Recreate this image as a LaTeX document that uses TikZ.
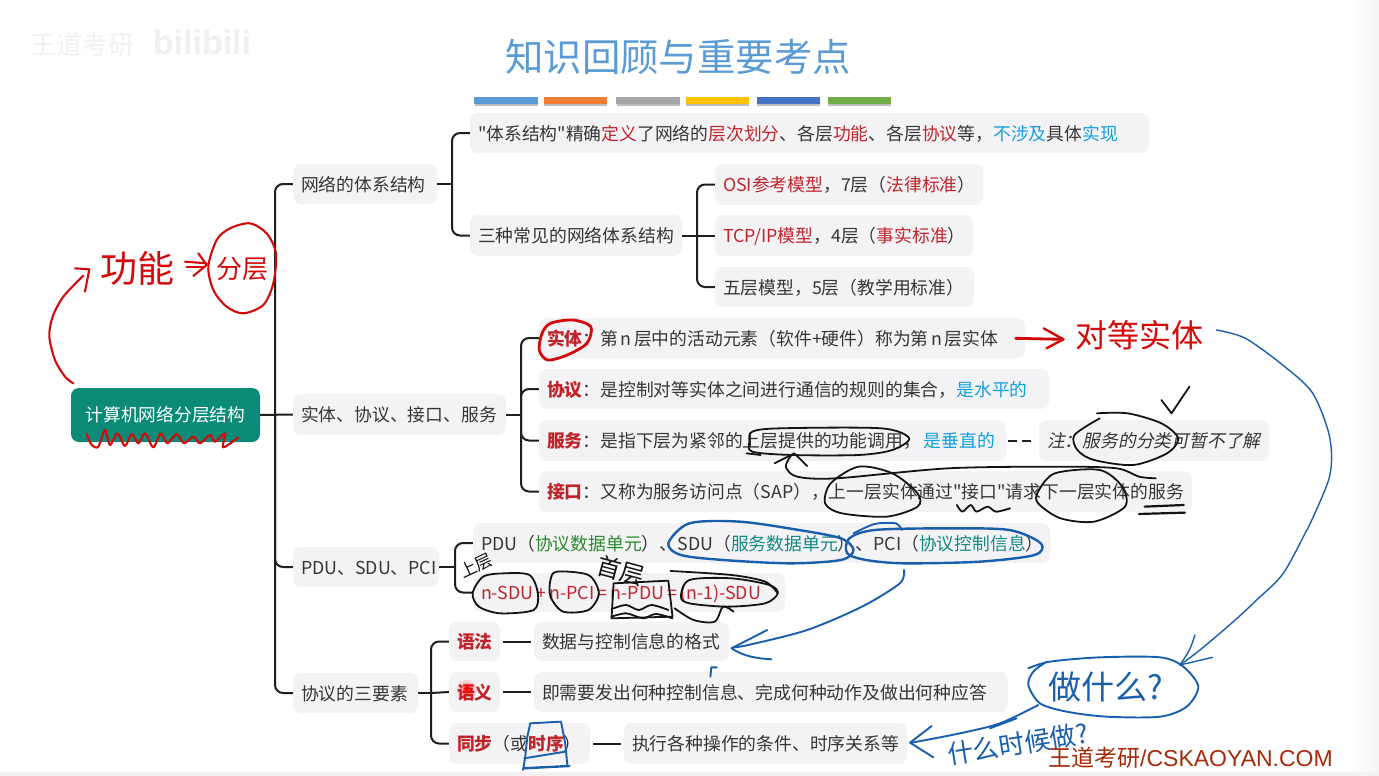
\documentclass[tikz,border=0pt]{standalone}
\usepackage{fontspec}
\setmainfont{Noto Sans CJK SC}
\newfontfamily\slantf[FakeSlant=0.2]{Noto Sans CJK SC}
\newfontfamily\arialf{Liberation Sans}
\newfontfamily\cjkl{Noto Sans CJK SC}
\definecolor{tred}{HTML}{C0242B}
\definecolor{tblue}{HTML}{12A0DC}
\definecolor{tgreen}{HTML}{2A8C2E}
\definecolor{tteal}{HTML}{128A80}
\definecolor{txt}{HTML}{363636}
\definecolor{boxf}{HTML}{F3F2F5}
\definecolor{inkr}{HTML}{D40A0A}
\definecolor{inkb}{HTML}{1A5FAE}
\definecolor{inkk}{HTML}{141414}
\definecolor{titlec}{HTML}{5B9BD5}
\definecolor{rootc}{HTML}{0B8A78}
\definecolor{brandc}{HTML}{A52A0A}
\newcommand{\rd}[1]{\textcolor{tred}{#1}}
\newcommand{\rb}[1]{\textcolor{tred}{\bfseries #1}}
\newcommand{\bl}[1]{\textcolor{tblue}{#1}}
\newcommand{\gr}[1]{\textcolor{tgreen}{#1}}
\newcommand{\te}[1]{\textcolor{tteal}{#1}}
\newcommand{\sq}{{\cjkl\symbol{34}}}
\newcommand{\bx}[6]{%
  \pgfmathsetmacro{\myw}{#4-#2}\pgfmathsetmacro{\myh}{#5-#3}%
  \pgfmathsetmacro{\mycx}{(#2+#4)/2}\pgfmathsetmacro{\mycy}{(#3+#5)/2}%
  \pgfmathsetmacro{\mytw}{\myw-16}%
  \node[tb,minimum width=\myw pt,minimum height=\myh pt,text width=\mytw pt] (#1) at (\mycx,\mycy) {#6};}
\tikzset{
  tb/.style={fill=boxf,rounded corners=8pt,inner xsep=8pt,inner ysep=0pt,align=left,text=txt,
    font=\fontsize{17.8}{20}\selectfont,text height=16pt,text depth=1.5pt},
  conn/.style={draw=black!88,line width=2pt,rounded corners=8pt},
  hr/.style={draw=inkr,line width=2.1pt,line cap=round,line join=round},
  hb/.style={draw=inkb,line width=1.9pt,line cap=round,line join=round},
  hk/.style={draw=inkk,line width=1.8pt,line cap=round,line join=round},
  z2/.style={shift={(500,310)},xscale=.5605,yscale=.3333},
  z3/.style={shift={(420,510)},xscale=.4209,yscale=.3333},
  z4/.style={shift={(900,600)},xscale=.3333,yscale=.3333},
  z5/.style={shift={(30,210)},xscale=.3333,yscale=.3333},
  bar/.style={minimum width=63.5pt,minimum height=7pt,inner sep=0pt},
  hand/.style={inner sep=0pt,font=\cjkl\fontsize{#1}{#1}\selectfont},
}
\begin{document}
\begin{tikzpicture}[x=1pt,y=-1pt]
\useasboundingbox (0,0) rectangle (1379,776);
\fill[white] (0,0) rectangle (1379,776);
\shade[left color=white,right color=black!4] (1350,0) rectangle (1379,776);
\fill[black!5] (0,772) rectangle (1379,776);
% watermark
\node[inner sep=0pt,text=black!5,font=\fontsize{26}{26}\selectfont] (wm1) at (82,45) {王道考研};
\node[inner sep=0pt,text=black!6,font=\arialf\bfseries\fontsize{34}{34}\selectfont] (wm2) at (202,42) {bilibili};
% title
\node[inner sep=0pt,font=\fontsize{38.4}{40}\selectfont,text=titlec] (title) at (678,57) {知识回顾与重要考点};
% colour bars
\foreach \nm/\xx/\cc in {b1/506/5B9BD5,b2/575.5/ED7D31,b3/648/A5A5A5,b4/717.5/FFC000,b5/788.5/4472C4,b6/859.5/70AD47}{
  \definecolor{barc}{HTML}{\cc}
  \fill[black!25] (\xx-31.5,99) rectangle (\xx+31.5,105.5);
  \node[bar,fill=barc] (\nm) at (\xx,100.5) {};
}
% root
\node[fill=rootc,rounded corners=8pt,minimum width=189pt,minimum height=54pt,inner sep=0pt,text=white,font=\fontsize{17.7}{20}\selectfont] (root) at (165.5,415) {计算机网络分层结构};
% boxes
\bx{A}{293}{164}{437}{204}{网络的体系结构}
\bx{B}{470}{113}{1149}{153}{\sq 体系结构\sq 精确\rd{定义}了网络的\rd{层次划分}、各层\rd{功能}、各层\rd{协议}等，\bl{不涉及}具体\bl{实现}}
\bx{C}{470}{215}{682}{256}{三种常见的网络体系结构}
\bx{D}{715}{164}{983}{205}{\rd{OSI参考模型}，7层（\rd{法律标准}）}
\bx{E}{715}{215}{973}{256}{\rd{TCP/IP模型}，4层（\rd{事实标准}）}
\bx{F}{715}{267}{974}{307}{五层模型，5层（教学用标准）}
\bx{G}{293}{394}{506}{435}{实体、协议、接口、服务}
\bx{H}{539}{318}{1025}{358}{\rb{实体}：第\hspace{2.5pt}n\hspace{2.5pt}层中的活动元素（软件+硬件）称为第\hspace{2.5pt}n\hspace{2.5pt}层实体}
\bx{I}{539}{369}{1049}{409}{\rb{协议}：是控制对等实体之间进行通信的规则的集合，\bl{是水平的}}
\bx{J}{539}{420}{1006}{461}{\rb{服务}：是指下层为紧邻的上层提供的功能调用，\hspace{3pt}\bl{是垂直的}}
\bx{K}{1039}{420}{1269}{461}{{\slantf 注：服务的分类可暂不了解}}
\bx{L}{539}{471}{1192}{512}{\rb{接口}：又称为服务访问点（SAP），上一层实体通过\sq 接口\sq 请求下一层实体的服务}
\bx{M}{293}{547}{439}{587}{PDU、SDU、PCI}
\bx{N}{473}{523}{1050}{563}{PDU（\gr{协议数据单元}）、SDU（\te{服务数据单元}）、PCI（\te{协议控制信息}）}
\bx{O}{473}{573}{785}{612}{\rd{n-SDU\hspace{3.2pt}+\hspace{3.2pt}n-PCI\hspace{3.2pt}=\hspace{3.2pt}n-PDU\hspace{3.2pt}=\hspace{3.2pt}(n-1)-SDU}}
\bx{P}{293}{673}{418}{713}{协议的三要素}
\bx{Q}{449}{622}{500}{661}{\rb{语法}}
\bx{R}{449}{672}{500}{712}{\rb{语义}}
\bx{S}{449}{723}{590}{764}{\rb{同步}（或\rb{时序}）}
\bx{T}{534}{622}{729}{661}{数据与控制信息的格式}
\bx{U}{534}{672}{1008}{712}{即需要发出何种控制信息、完成何种动作及做出何种应答}
\bx{V}{624}{723}{907}{764}{执行各种操作的条件、时序关系等}
% connectors
\coordinate (busR) at (275,415);
\coordinate (busA) at (452,184);
\coordinate (busC) at (697,235.5);
\coordinate (busG) at (521,414.5);
\coordinate (busM) at (455,567);
\coordinate (busP) at (431,693);
\draw[conn] (root.east) -- (G.west);
\draw[conn] (busR) |- (A.west);
\draw[conn] (busR) |- (M.west);
\draw[conn] (busR) |- (P.west);
\draw[conn] (A.east) -- (busA);
\draw[conn] (busA) |- (B.west);
\draw[conn] (busA) |- (C.west);
\draw[conn] (C.east) -- (busC);
\draw[conn] (busC) |- (D.west);
\draw[conn] (busC) -- (E.west);
\draw[conn] (busC) |- (F.west);
\draw[conn] (G.east) -- (busG);
\draw[conn] (busG) |- (H.west);
\draw[conn] (busG) |- (I.west);
\draw[conn] (busG) |- (J.west);
\draw[conn] (busG) |- (L.west);
\draw[conn] (M.east) -- (busM);
\draw[conn] (busM) |- (N.west);
\draw[conn] (busM) |- (O.west);
\draw[conn] (P.east) -- (busP);
\draw[conn] (busP) |- (Q.west);
\draw[conn] (busP) -- (R.west);
\draw[conn] (busP) |- (S.west);
\draw[conn,shorten <=3pt,shorten >=3pt] (Q.east) -- (T.west);
\draw[conn,shorten <=3pt,shorten >=3pt] (R.east) -- (U.west);
\draw[conn,shorten <=3pt,shorten >=3pt] (S.east) -- (V.west);
\draw[conn,dash pattern=on 9pt off 5pt,shorten <=2pt,shorten >=5pt] (J.east) -- (K.west);
% laser spot
\fill[red,opacity=.12] (467,690) circle (10);
\fill[red,opacity=.25] (467,690) circle (7);
\fill[red,opacity=.5] (467,690) circle (4);
% red ink
\begin{scope}[z5]
\draw[hr] plot[smooth] coordinates {(130,520)(105,500)(75,450)(58,380)(68,320)(100,260)(160,197)};
\draw[hr] (135,175)--(178,178)--(165,245);
\draw[hr] plot[smooth cycle] coordinates {(600,55)(660,40)(710,70)(738,130)(730,220)(700,285)(640,310)(590,290)(550,240)(535,170)(560,90)};
\draw[hr] (465,155)--(530,160);
\draw[hr] (470,172)--(525,172);
\draw[hr] (505,130)--(530,165)--(490,198);
\draw[hr] plot[smooth] coordinates {(170,672)(185,705)(205,710)(225,660)(240,705)(262,670)(285,708)(305,672)(325,700)(345,670)(370,712)(392,670)(412,700)(440,672)(462,700)(490,680)(510,700)(540,675)(555,695)(585,670)(580,712)(625,682)};
\end{scope}
\node[hand=37,text=inkr] (gn) at (137,268) {功能};
\node[hand=26,text=inkr] (fc) at (242,269) {分层};
\begin{scope}[z2]
\draw[hr,line width=2.8pt] plot[smooth cycle] coordinates {(90,40)(130,30)(162,50)(155,100)(120,135)(85,150)(70,120)(75,70)};
\draw[hr,line width=2.8pt] (920,85)--(1005,88);
\draw[hr,line width=2.4pt] (970,55)--(1005,88)--(975,115);
\end{scope}
\node[hand=32,text=inkr] (ddst) at (1139,335) {对等实体};
% black ink
\begin{scope}[z2]
\draw[hk] plot[smooth cycle] coordinates {(450,365)(500,355)(680,355)(730,385)(700,420)(640,435)(520,435)(450,425)(445,395)};
\draw[hk] (440,430)--(465,435);
\draw[hk] plot[smooth] coordinates {(520,435)(510,470)(530,500)(600,505)(800,475)(1000,470)(1100,475)(1140,500)(1170,505)};
\draw[hk] (490,460)--(525,430)--(548,468);
\draw[hk] plot[smooth cycle] coordinates {(640,470)(700,490)(745,550)(745,590)(690,620)(610,610)(580,580)(590,520)};
\draw[hk] plot[smooth cycle] coordinates {(960,545)(990,490)(1070,480)(1110,530)(1115,590)(1060,635)(1000,625)(960,580)};
\draw[hk] plot[smooth] coordinates {(815,585)(825,605)(840,585)(850,605)(870,590)(885,605)(910,595)};
\draw[hk,line width=2.2pt] (1150,590)--(1220,585);
\draw[hk,line width=2.2pt] (1140,612)--(1222,608);
\draw[hk] (1180,270)--(1198,310)--(1230,230);
\draw[hk] plot[smooth] coordinates {(1065,310)(1120,310)(1180,340)(1210,385)(1190,430)(1130,465)(1060,450)(1030,420)(1025,375)(1070,325)};
\end{scope}
\begin{scope}[z3]
\draw[hk] plot[smooth cycle] coordinates {(150,200)(200,190)(260,195)(280,250)(270,300)(190,310)(140,290)(125,250)};
\draw[hk] plot[smooth cycle] coordinates {(325,185)(400,195)(425,250)(400,300)(340,305)(310,260)(310,210)};
\draw[hk] (460,220)--(590,212)--(600,320)--(455,325)--cycle;
\draw[hk] plot[smooth] coordinates {(460,295)(490,285)(520,300)(550,285)(590,300)};
\draw[hk] plot[smooth] coordinates {(455,320)(490,310)(530,325)(560,312)(600,325)};
\draw[hk] plot[smooth cycle] coordinates {(620,260)(640,210)(740,205)(830,225)(850,250)(820,280)(730,290)(640,280)};
\draw[hk] plot[smooth] coordinates {(605,295)(650,330)(700,335)(720,290)(745,305)};
\draw[hk] plot[smooth] coordinates {(595,183)(740,195)(820,215)(850,250)};
\end{scope}
\node[hand=17,text=inkk,rotate=25] (sc) at (476,566) {上层};
\node[hand=24,text=inkk,rotate=-15] (sb) at (621,571) {首层};
% blue ink
\begin{scope}[z3]
\draw[hb,line width=2.4pt] plot[smooth cycle] coordinates {(590,100)(640,40)(760,35)(900,60)(1000,85)(1030,120)(1000,150)(880,160)(720,150)(620,135)};
\draw[hb,line width=2.4pt] plot[smooth cycle] coordinates {(1015,130)(1020,85)(1080,60)(1250,55)(1400,60)(1475,100)(1460,135)(1330,155)(1150,160)(1060,150)};
\draw[hb] plot[smooth] coordinates {(1030,70)(1080,42)(1130,40)(1145,60)};
\draw[hb] plot[smooth] coordinates {(1150,180)(1140,220)(1050,290)(920,360)(780,405)(745,412)};
\draw[hb] (825,360)--(740,415) .. controls (770,440) and (800,445) .. (835,448);
\draw[hb] (690,500)--(692,472)--(705,472);
\draw[hb] (262,640)--(335,635)--(345,700)--(350,765);
\draw[hb] (262,640)--(255,680)--(250,740)--(245,780);
\draw[hb] (248,745)--(345,725);
\draw[hb,line width=2.4pt] (245,775)--(355,768);
\end{scope}
\begin{scope}[z2]
\draw[hb,line width=1.4pt] plot[smooth] coordinates {(1278,60)(1330,85)(1400,170)(1450,250)(1480,380)(1480,500)(1440,660)};
\end{scope}
\begin{scope}[z4]
\draw[hb,line width=1.4pt] plot[smooth] coordinates {(1220,-210)(1150,-80)(1070,0)(1000,65)(900,150)(840,195)};
\draw[hb,line width=1.4pt] (885,105) .. controls (870,150) .. (840,195) -- (938,172);
\draw[hb] plot[smooth] coordinates {(385,205)(450,185)(600,172)(780,172)(850,200)(895,260)(860,320)(780,350)(620,350)(500,335)(420,310)(385,255)(400,215)(440,185)};
\draw[hb] plot[smooth] coordinates {(415,315)(300,370)(180,400)(35,428)};
\draw[hb] (270,385)--(350,355);
\draw[hb] (95,378)--(30,428)--(100,472);
\end{scope}
\node[hand=33,text=inkb] (zsm) at (1106,687) {做什么?};
\node[hand=26,text=inkb,rotate=9] (sh) at (1018,744) {什么时候做?};
% site mark
\node[inner sep=0pt,anchor=west,text=brandc,font=\arialf\fontsize{23}{23}\selectfont] (brand) at (1048,758) {{\cjkl 王道考研}/CSKAOYAN.COM};
\end{tikzpicture}
\end{document}
